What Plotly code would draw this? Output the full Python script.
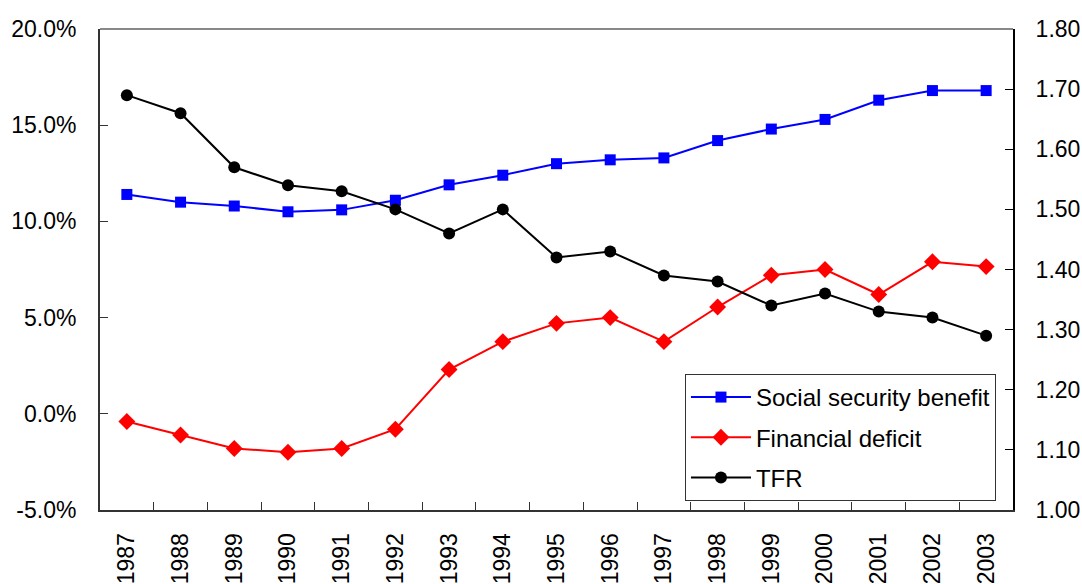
import plotly.graph_objects as go

years = [str(y) for y in range(1987, 2004)]
social_security_benefit = [11.4, 11.0, 10.8, 10.5, 10.6, 11.1, 11.9, 12.4, 13.0, 13.2, 13.3, 14.2, 14.8, 15.3, 16.3, 16.8, 16.8]
financial_deficit = [-0.4, -1.1, -1.8, -2.0, -1.8, -0.8, 2.3, 3.75, 4.7, 5.0, 3.75, 5.55, 7.2, 7.5, 6.2, 7.9, 7.65]
tfr = [1.69, 1.66, 1.57, 1.54, 1.53, 1.50, 1.46, 1.50, 1.42, 1.43, 1.39, 1.38, 1.34, 1.36, 1.33, 1.32, 1.29]

left_ticks = [-5, 0, 5, 10, 15, 20]
left_labels = ["-5.0%", "0.0%", "5.0%", "10.0%", "15.0%", "20.0%"]
right_ticks = [1.0, 1.1, 1.2, 1.3, 1.4, 1.5, 1.6, 1.7, 1.8]
right_labels = ["1.00", "1.10", "1.20", "1.30", "1.40", "1.50", "1.60", "1.70", "1.80"]

FONT = "Liberation Sans, Arial, sans-serif"

fig = go.Figure()
fig.add_trace(go.Scatter(x=years, y=social_security_benefit, name="Social security benefit",
                         mode="lines+markers", legendgroup="a",
                         line=dict(color="#0000FF", width=2),
                         marker=dict(symbol="square", size=11, color="#0000FF")))
fig.add_trace(go.Scatter(x=years, y=financial_deficit, name="Financial deficit",
                         mode="lines+markers", legendgroup="b",
                         line=dict(color="#FF0000", width=2),
                         marker=dict(symbol="diamond", size=13, color="#FF0000")))
fig.add_trace(go.Scatter(x=years, y=tfr, name="TFR", yaxis="y2",
                         mode="lines+markers", legendgroup="c",
                         line=dict(color="#000000", width=2),
                         marker=dict(symbol="circle", size=12, color="#000000")))

fig.update_layout(
    width=1082, height=584,
    margin=dict(l=100, r=69, t=29, b=74),
    paper_bgcolor="white", plot_bgcolor="white",
    font=dict(family=FONT, size=23, color="black"),
    showlegend=True,
    legend=dict(x=0.6407, y=0.2828, xanchor="left", yanchor="top",
                bgcolor="white", bordercolor="#333333", borderwidth=1,
                font=dict(size=24), traceorder="grouped", tracegroupgap=6,
                itemwidth=60),
    xaxis=dict(type="category", showgrid=False, showline=True, linecolor="#333333", linewidth=2,
               ticks="inside", ticklen=8, tickcolor="#333333", tickson="boundaries",
               tickangle=-90, automargin=False, ticklabelstandoff=12,
               range=[-0.5, 16.5]),
    yaxis=dict(range=[-5, 20], tickmode="array", tickvals=left_ticks, ticktext=left_labels,
               showgrid=False, zeroline=False, showline=True, linecolor="#333333", linewidth=2,
               ticks="inside", ticklen=8, tickcolor="#333333", automargin=False,
               ticklabelstandoff=17),
    yaxis2=dict(range=[1.0, 1.8], tickmode="array", tickvals=right_ticks, ticktext=right_labels,
                overlaying="y", side="right",
                showgrid=False, zeroline=False, showline=True, linecolor="#000000", linewidth=2,
                ticks="inside", ticklen=8, tickcolor="#000000", automargin=False,
                ticklabelstandoff=16),
    shapes=[dict(type="line", xref="paper", yref="paper", x0=0, x1=1, y0=1, y1=1,
                 line=dict(color="#888888", width=2))],
)

fig.write_html("out.html",
               config={"displayModeBar": False},
               post_script="document.body.style.margin='0';document.body.style.overflow='hidden';"
                           "document.documentElement.style.overflow='hidden';")
